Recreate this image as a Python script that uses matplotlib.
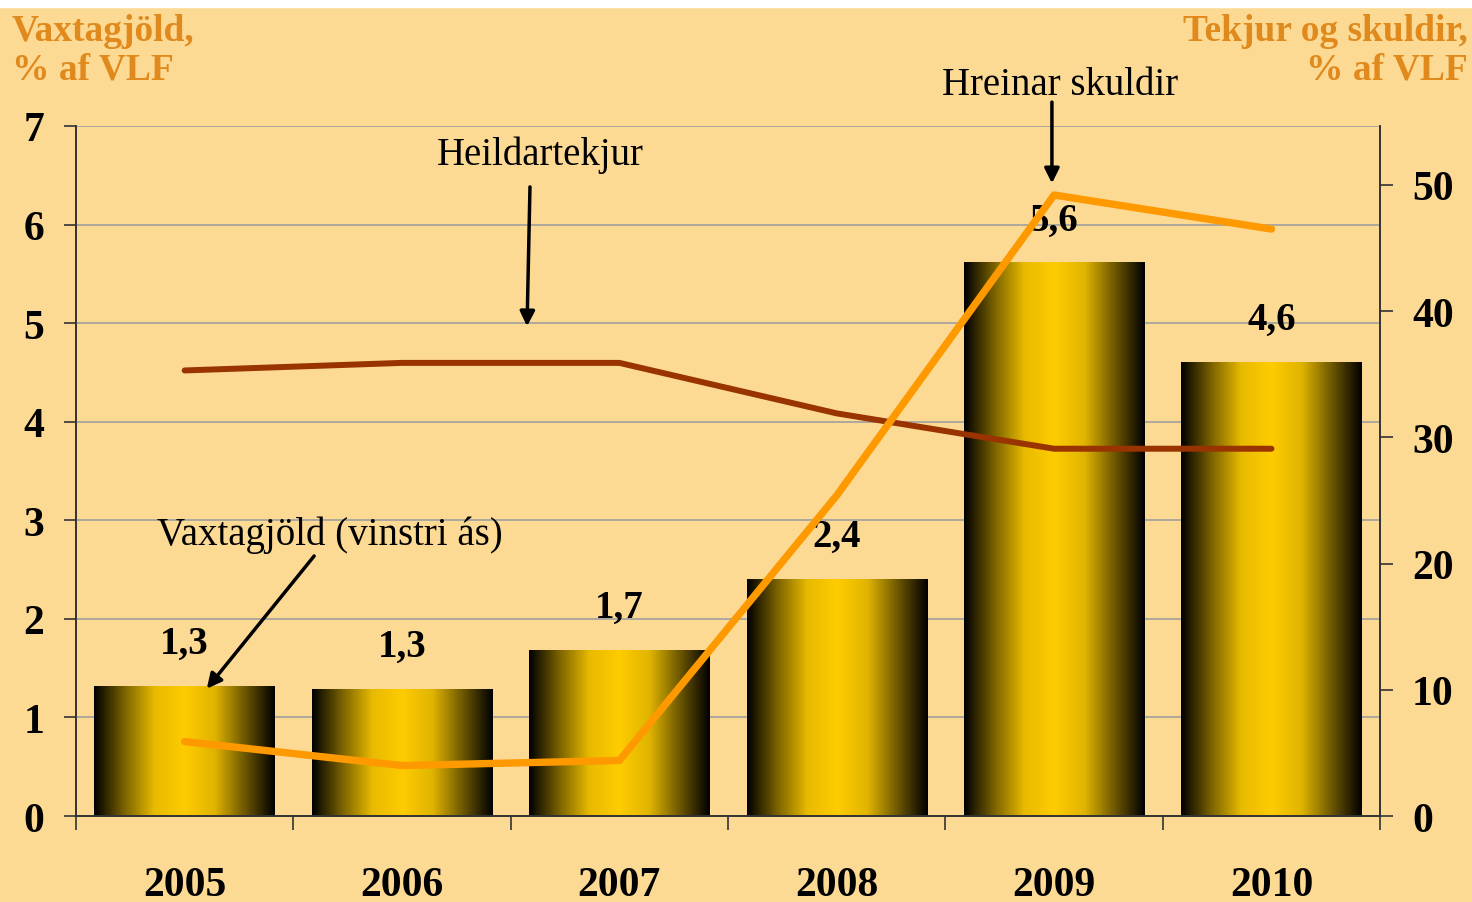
import numpy as np
import matplotlib.pyplot as plt
from matplotlib.colors import LinearSegmentedColormap

years = ["2005", "2006", "2007", "2008", "2009", "2010"]
vaxtagjold = [1.31, 1.28, 1.68, 2.40, 5.61, 4.60]
vaxtagjold_labels = ["1,3", "1,3", "1,7", "2,4", "5,6", "4,6"]
heildartekjur = [35.3, 35.9, 35.9, 31.9, 29.1, 29.1]
hreinar_skuldir = [5.9, 4.0, 4.4, 25.4, 49.2, 46.5]

bg = "#FDDA94"
title_col = "#E08A1E"
plt.rcParams['font.family'] = ['Liberation Serif', 'DejaVu Serif']

fig = plt.figure(figsize=(14.72, 9.03), dpi=100, facecolor=bg)
fig.patches.append(plt.Rectangle((0, 0.991), 1, 0.01, transform=fig.transFigure,
                                 color="white", zorder=0))
ax = fig.add_axes([0.0516, 0.0952, 0.886, 0.7642])
ax.set_facecolor(bg)
ax2 = ax.twinx()

x = np.arange(len(years))
w = 0.83

# gradient bars: dark edges, gold centre
cmap = LinearSegmentedColormap.from_list("gold", ["#000000", "#7A6200", "#E8BA00", "#FFCC00",
                                                  "#E0B400", "#6E5800", "#000000"])
grad = np.linspace(0, 1, 256).reshape(1, -1)
for xi, v in zip(x, vaxtagjold):
    ax.imshow(grad, cmap=cmap, aspect="auto", extent=[xi - w / 2, xi + w / 2, 0, v],
              zorder=2, interpolation="bicubic")
for xi, v, lab in zip(x, vaxtagjold, vaxtagjold_labels):
    ax.annotate(lab, (xi, v), xytext=(0, 31), textcoords="offset points", ha="center",
                va="center", fontsize=28, fontweight="bold", zorder=5)

ax.set_xlim(-0.5, len(years) - 0.5)
ax.set_ylim(0, 7)
ax.set_yticks(range(0, 8))
ax.set_xticks(x)
ax.set_xticklabels(years)
ax.set_xticks(np.arange(-0.5, len(years)), minor=True)
ax.tick_params(axis="x", which="major", length=0, pad=36, labelsize=30)
ax.tick_params(axis="x", which="minor", length=10, width=1.2, direction="out", color="#333333")
ax.tick_params(axis="y", length=9, width=1.2, pad=14, labelsize=30, color="#333333")
for t in ax.get_xticklabels() + ax.get_yticklabels():
    t.set_fontweight("bold")
ax.grid(axis="y", color="#A0A0A0", lw=1.2, zorder=1)
ax.set_axisbelow(True)

ax2.plot(x, heildartekjur, color="#993300", lw=4.3, zorder=4, solid_capstyle="round")
ax2.plot(x, hreinar_skuldir, color="#FF9900", lw=5.3, zorder=4, solid_capstyle="round")
ax2.set_ylim(0, 54.67)
ax2.set_yticks(range(0, 60, 10))
ax2.tick_params(axis="y", length=9, width=1.2, pad=14, labelsize=30, color="#333333")
for t in ax2.get_yticklabels():
    t.set_fontweight("bold")

for a in (ax, ax2):
    a.spines["top"].set_visible(False)
    for s in ("left", "right", "bottom"):
        a.spines[s].set_color("#333333")
        a.spines[s].set_linewidth(1.2)
ax.set_zorder(ax2.get_zorder() - 1)
ax2.patch.set_visible(False)

fig.text(0.008, 0.985, "Vaxtagjöld,\n% af VLF", ha="left", va="top", fontsize=27,
         fontweight="bold", color=title_col, linespacing=1.15)
fig.text(0.997, 0.985, "Tekjur og skuldir,\n% af VLF", ha="right", va="top", fontsize=27,
         fontweight="bold", color=title_col, linespacing=1.15, multialignment="right")

arrow = dict(arrowstyle="-|>", color="black", lw=2.5, mutation_scale=22)
ax.annotate("", xy=(1.575, 4.94), xytext=(1.589, 6.41), arrowprops=arrow)
ax.text(1.635, 6.71, "Heildartekjur", ha="center", va="center", fontsize=28)
ax.annotate("", xy=(3.99, 6.39), xytext=(3.99, 7.27), arrowprops=arrow, annotation_clip=False)
ax.text(4.028, 7.42, "Hreinar skuldir", ha="center", va="center", fontsize=28, clip_on=False)
ax.annotate("", xy=(0.094, 1.27), xytext=(0.604, 2.66), arrowprops=arrow)
ax.text(0.669, 2.86, "Vaxtagjöld (vinstri ás)", ha="center", va="center", fontsize=28)

fig.savefig("out.png", dpi=100, facecolor=bg)
